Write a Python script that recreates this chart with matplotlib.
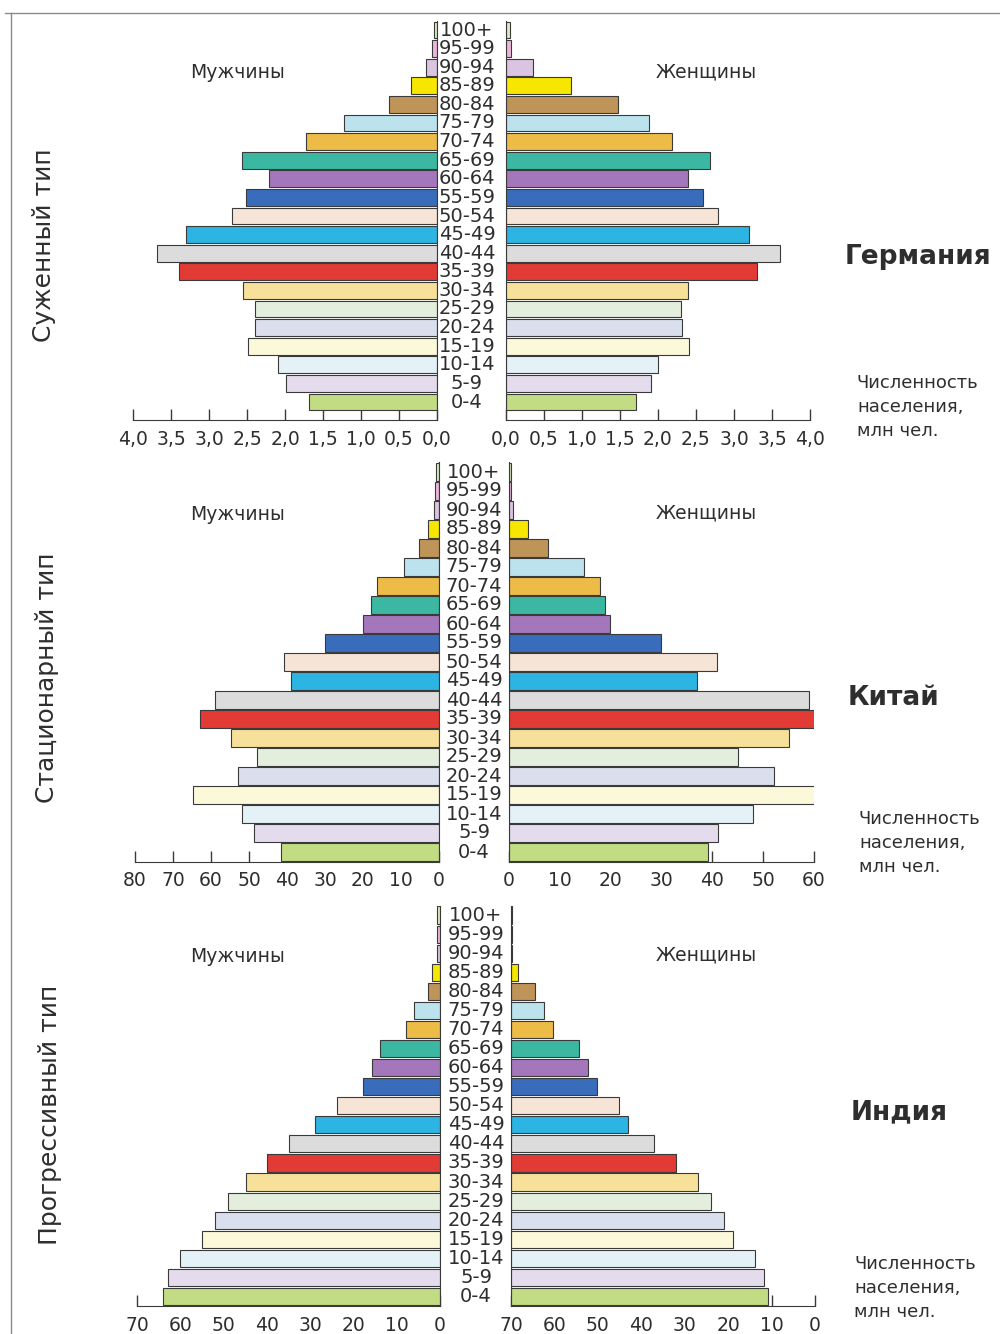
import matplotlib
matplotlib.use('Agg')
import matplotlib.pyplot as plt
from matplotlib.lines import Line2D
from matplotlib.transforms import blended_transform_factory

W, H = 1000, 1334

# age groups from the bottom row up
ages = ['0-4', '5-9', '10-14', '15-19', '20-24', '25-29', '30-34', '35-39',
        '40-44', '45-49', '50-54', '55-59', '60-64', '65-69', '70-74',
        '75-79', '80-84', '85-89', '90-94', '95-99', '100+']
colors = ['#c2dc84', '#e4dcec', '#e4f2f8', '#fcf8da', '#dadfee', '#e4eedc',
          '#f6e09a', '#e23a34', '#dcdcdc', '#2cb4e2', '#f6e4d6', '#3a6cbc',
          '#a477bc', '#3cb8a2', '#ecbc46', '#bce2ee', '#bf9458', '#f6e600',
          '#dac4e2', '#ecb6dc', '#dcecc0']

# Германия, млн чел.
germany_men = [1.68, 1.99, 2.09, 2.49, 2.39, 2.39, 2.55, 3.40, 3.69, 3.30, 2.70,
               2.51, 2.21, 2.56, 1.72, 1.23, 0.63, 0.34, 0.14, 0.06, 0.04]
germany_women = [1.71, 1.91, 2.00, 2.41, 2.31, 2.30, 2.40, 3.30, 3.60, 3.20, 2.79,
                 2.59, 2.39, 2.68, 2.18, 1.88, 1.48, 0.86, 0.36, 0.06, 0.05]
# Китай, млн чел.
china_men = [41.7, 48.7, 51.8, 64.8, 52.9, 47.9, 54.8, 62.9, 59.0, 39.0, 40.9,
             30.0, 20.1, 18.0, 16.2, 9.2, 5.2, 2.9, 1.2, 1.0, 0.8]
china_women = [39.1, 41.1, 48.0, 60.1, 52.1, 45.0, 55.0, 60.1, 59.0, 37.0, 41.0,
               29.9, 19.9, 18.9, 17.9, 14.8, 7.7, 3.7, 0.8, 0.3, 0.3]
# Индия, млн чел. (women scale printed reversed in the book)
india_men = [64.0, 62.9, 60.0, 55.0, 52.0, 49.0, 44.8, 40.0, 34.9, 28.8, 23.8,
             17.8, 15.8, 13.8, 7.9, 5.9, 2.8, 1.9, 0.8, 0.8, 0.8]
india_women = [59.2, 58.2, 56.2, 51.2, 49.1, 46.1, 43.1, 38.1, 32.9, 26.9, 24.9,
               19.8, 17.8, 15.7, 9.6, 7.5, 5.6, 1.5, 0.3, 0.3, 0.3]

germany_ticks = [0, 0.5, 1.0, 1.5, 2.0, 2.5, 3.0, 3.5, 4.0]
germany_labels = ['0,0', '0,5', '1,0', '1,5', '2,0', '2,5', '3,0', '3,5', '4,0']
china_men_ticks = [0, 10, 20, 30, 40, 50, 60, 70, 80]
china_women_ticks = [0, 10, 20, 30, 40, 50, 60]
india_ticks = [0, 10, 20, 30, 40, 50, 60, 70]
india_women_labels = ['70', '60', '50', '40', '30', '20', '10', '0']

plt.rcParams['font.family'] = ['DejaVu Sans']
TXT = '#2e2e2e'
EDGE = '#3a3a3a'

fig = plt.figure(figsize=(10, 13.34), dpi=100)


def rect(x0, y0, x1, y1):
    return [x0 / W, 1 - y1 / H, (x1 - x0) / W, (y1 - y0) / H]


def style(ax, side):
    for s in ['top', 'left', 'right', 'bottom']:
        ax.spines[s].set_visible(False)
    ax.spines[side].set_visible(True)
    ax.spines['bottom'].set_visible(True)
    ax.spines[side].set_color(EDGE)
    ax.spines['bottom'].set_color(EDGE)
    ax.set_yticks([])
    ax.set_axisbelow(True)  # ticks hide behind the bars like in the book
    ax.tick_params(axis='x', direction='in', length=8, width=1, pad=7,
                   labelsize=13.5, colors=EDGE, labelcolor=TXT)
    ax.patch.set_alpha(0)


panels = [
    dict(men=germany_men, women=germany_women, mx=(133, 437), wx=(506, 810),
         top=20.7, bottom=411.3, axis=420, mlim=4.0, wlim=4.0,
         mt=germany_ticks, ml=germany_labels, wt=germany_ticks, wl=germany_labels,
         agex=467),
    dict(men=china_men, women=china_women, mx=(135, 439), wx=(509, 814),
         top=462.5, bottom=861.5, axis=861.5, mlim=80, wlim=60,
         mt=china_men_ticks, ml=[str(t) for t in china_men_ticks],
         wt=china_women_ticks, wl=[str(t) for t in china_women_ticks],
         agex=474),
    dict(men=india_men, women=india_women, mx=(137, 440), wx=(511, 815),
         top=905.5, bottom=1306, axis=1306, mlim=70, wlim=70,
         mt=india_ticks, ml=[str(t) for t in india_ticks],
         wt=india_ticks, wl=india_women_labels,
         agex=476),
]

rows = range(len(ages))
for p in panels:
    row_h = (p['bottom'] - p['top']) / len(ages)
    gap = (p['axis'] - p['bottom']) / row_h

    axm = fig.add_axes(rect(p['mx'][0], p['top'], p['mx'][1], p['axis']))
    axm.barh(rows, p['men'], height=0.9, color=colors, edgecolor=EDGE, linewidth=0.8)
    axm.set_xlim(p['mlim'], 0)
    axm.set_ylim(-0.5 - gap, len(ages) - 0.5)
    style(axm, 'right')
    axm.set_xticks(p['mt'])
    axm.set_xticklabels(p['ml'])

    axw = fig.add_axes(rect(p['wx'][0], p['top'], p['wx'][1], p['axis']))
    axw.barh(rows, p['women'], height=0.9, color=colors, edgecolor=EDGE, linewidth=0.8)
    axw.set_xlim(0, p['wlim'])
    axw.set_ylim(-0.5 - gap, len(ages) - 0.5)
    style(axw, 'left')
    axw.set_xticks(p['wt'])
    axw.set_xticklabels(p['wl'])

    tr = blended_transform_factory(fig.transFigure, axm.transData)
    for i, a in enumerate(ages):
        axm.text(p['agex'] / W, i, a, transform=tr, ha='center', va='center',
                 fontsize=14, color=TXT, clip_on=False)


def ftext(x, y, s, **kw):
    fig.text(x / W, 1 - y / H, s, color=TXT, **kw)


for y in [72, 515, 957]:
    ftext(238, y, 'Мужчины', fontsize=13.5, ha='center', va='center')
for y in [72, 513, 955]:
    ftext(706, y, 'Женщины', fontsize=13.5, ha='center', va='center')

ftext(918, 257, 'Германия', fontsize=19, fontweight='bold', ha='center', va='center')
ftext(893, 698, 'Китай', fontsize=19, fontweight='bold', ha='center', va='center')
ftext(899, 1112, 'Индия', fontsize=19, fontweight='bold', ha='center', va='center')

for x, y in [(857, 407), (859, 843), (854, 1288)]:
    ftext(x, y, 'Численность\nнаселения,\nмлн чел.', fontsize=13, ha='left',
          va='center', linespacing=1.45)

ftext(44, 245, 'Суженный тип', fontsize=18, rotation=90, ha='center', va='center')
ftext(47, 678, 'Стационарный тип', fontsize=18, rotation=90, ha='center', va='center')
ftext(50, 1115, 'Прогрессивный тип', fontsize=18, rotation=90, ha='center', va='center')

# page frame
fig.add_artist(Line2D([5 / W, 1], [1 - 13 / H, 1 - 13 / H], color='#8a8a8a',
                      linewidth=1, transform=fig.transFigure))
fig.add_artist(Line2D([11 / W, 11 / W], [1 - 13 / H, 0], color='#8a8a8a',
                      linewidth=1, transform=fig.transFigure))

fig.savefig('out.png', dpi=100, facecolor='white')
